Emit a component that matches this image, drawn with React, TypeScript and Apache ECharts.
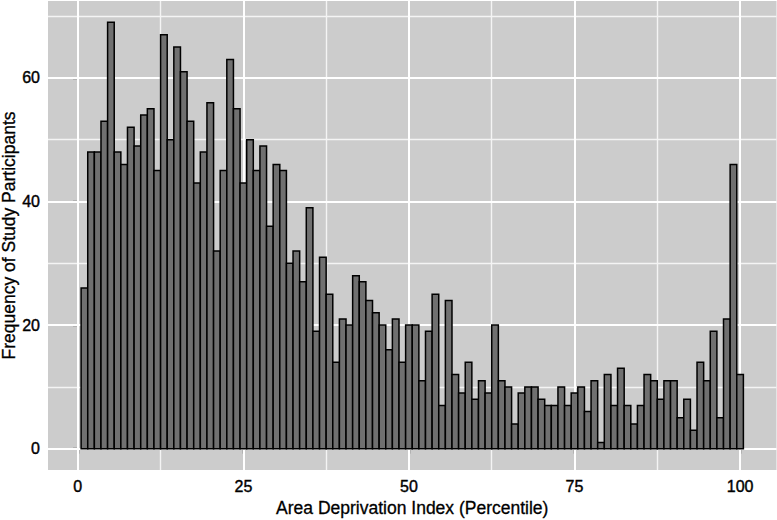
import React, { useEffect, useRef } from "react";
import * as echarts from "echarts";

// Frequency of study participants for each ADI percentile 1..100
const counts = [
  26, 48, 48, 53, 69, 48, 46, 52, 49, 54,
  55, 45, 67, 50, 65, 61, 53, 43, 48, 56,
  32, 45, 63, 55, 43, 50, 45, 49, 36, 46,
  45, 30, 32, 27, 39, 19, 31, 25, 14, 21,
  20, 28, 27, 24, 22, 20, 16, 21, 14, 20,
  20, 11, 19, 25, 7, 24, 12, 9, 14, 8,
  11, 9, 20, 11, 10, 4, 9, 10, 10, 8,
  7, 7, 10, 7, 9, 10, 6, 11, 1, 12,
  7, 13, 7, 4, 7, 12, 11, 8, 11, 11,
  5, 8, 3, 14, 11, 19, 5, 21, 46, 12,
];
const percentiles = counts.map((_, i) => i + 1);

const xTicks = [0, 25, 50, 75, 100];
const xMinor = [12.5, 37.5, 62.5, 87.5];
const yTicks = [0, 20, 40, 60];
const yMinor = [10, 30, 50, 70];

const xTitle = "Area Deprivation Index (Percentile)";
const yTitle = "Frequency of Study Participants";

export default function App() {
  const ref = useRef<HTMLDivElement>(null);

  useEffect(() => {
    const chart = echarts.init(ref.current as HTMLDivElement, null, { renderer: "svg" });
    const data = percentiles.map((p, i) => [p, counts[i]]);

    const majorLine = { color: "#ffffff", width: 2, type: "solid" };
    const minorLine = { color: "#f4f4f4", width: 1.4, type: "solid" };

    const gridLines = [
      ...xMinor.map((v) => ({ xAxis: v, lineStyle: minorLine })),
      ...yMinor.map((v) => ({ yAxis: v, lineStyle: minorLine })),
      ...xTicks.map((v) => ({ xAxis: v, lineStyle: majorLine })),
      ...yTicks.map((v) => ({ yAxis: v, lineStyle: majorLine })),
    ];

    const labelStyle = {
      fontFamily: "Liberation Sans, Arial, sans-serif",
      fontSize: 16,
      color: "#000000",
      textBorderColor: "#000000",
      textBorderWidth: 0.4,
    };
    const titleStyle = {
      fontFamily: "Liberation Sans, Arial, sans-serif",
      fontSize: 17.5,
      color: "#000000",
      textBorderColor: "#000000",
      textBorderWidth: 0.3,
    };

    chart.setOption({
      animation: false,
      grid: {
        left: 48,
        right: 0.5,
        top: 1,
        bottom: 50,
        show: true,
        backgroundColor: "#cccccc",
        borderWidth: 0,
        containLabel: false,
        outerBoundsMode: "none",
      },
      xAxis: {
        type: "value",
        min: -4.5,
        max: 105.5,
        axisLine: { show: false },
        splitLine: { show: false },
        axisTick: {
          show: true,
          customValues: xTicks,
          length: 5,
          lineStyle: { color: "#222222", width: 1.3 },
        },
        axisLabel: { customValues: xTicks, margin: 8, ...labelStyle },
        name: xTitle,
        nameLocation: "middle",
        nameGap: 27,
        nameTextStyle: titleStyle,
      },
      yAxis: {
        type: "value",
        min: -3.45,
        max: 72.45,
        axisLine: { show: false },
        splitLine: { show: false },
        axisTick: {
          show: true,
          customValues: yTicks,
          length: 5,
          lineStyle: { color: "#222222", width: 1.3 },
        },
        axisLabel: { customValues: yTicks, margin: 8, ...labelStyle },
        name: yTitle,
        nameLocation: "middle",
        nameMoveOverlap: false,
        nameGap: 30,
        nameTextStyle: titleStyle,
      },
      series: [
        {
          type: "line",
          data: [],
          z: 1,
          silent: true,
          markLine: {
            silent: true,
            z: 1,
            symbol: ["none", "none"],
            label: { show: false },
            emphasis: { disabled: true },
            data: gridLines,
          },
        },
        {
          type: "custom",
          z: 3,
          data,
          renderItem: (params: any, api: any) => {
            const x = api.value(0);
            const y = api.value(1);
            const p0 = api.coord([x - 0.5, y]);
            const p1 = api.coord([x + 0.5, 0]);
            return {
              type: "rect",
              shape: {
                x: p0[0],
                y: p0[1],
                width: p1[0] - p0[0],
                height: p1[1] - p0[1],
              },
              style: { fill: "#707070", stroke: "#000000", lineWidth: 1.5 },
            };
          },
        },
      ],
    });

    return () => chart.dispose();
  }, []);

  return (
    <div
      ref={ref}
      style={{ position: "fixed", left: 0, top: 0, width: 777, height: 520, background: "#ffffff" }}
    />
  );
}
